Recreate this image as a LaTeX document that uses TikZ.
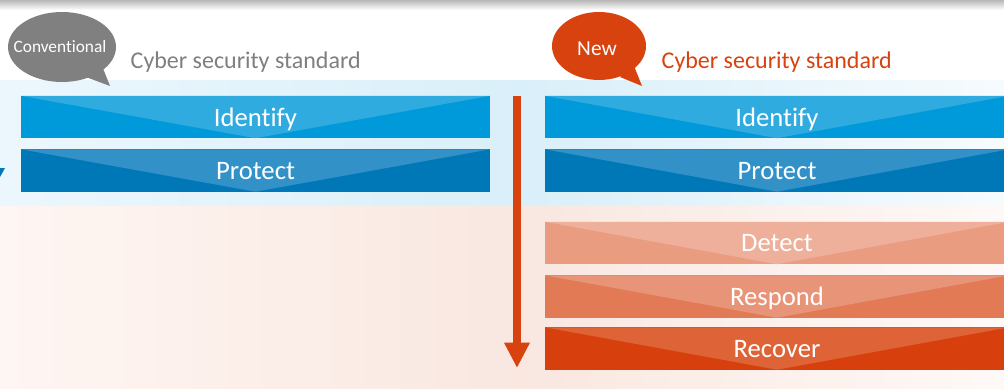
\documentclass[tikz,border=0pt]{standalone}
\usepackage{fontspec}
\setmainfont{Carlito}[Ligatures=CommonOff]
\usetikzlibrary{arrows.meta,shapes.geometric}
\definecolor{idbase}{RGB}{0,154,218}
\definecolor{idlite}{RGB}{48,171,224}
\definecolor{prbase}{RGB}{0,120,184}
\definecolor{prlite}{RGB}{50,146,200}
\definecolor{debase}{RGB}{234,156,128}
\definecolor{delite}{RGB}{238,176,154}
\definecolor{rsbase}{RGB}{227,122,86}
\definecolor{rslite}{RGB}{232,148,120}
\definecolor{rcbase}{RGB}{215,64,12}
\definecolor{rclite}{RGB}{222,100,56}
\definecolor{orng}{RGB}{216,66,14}
\definecolor{gtxt}{RGB}{127,127,127}
\definecolor{gbub}{RGB}{128,128,128}
\definecolor{bl1}{RGB}{236,247,253}
\definecolor{bl2}{RGB}{217,239,249}
\definecolor{bl3}{RGB}{246,251,254}
\definecolor{pk1}{RGB}{254,246,243}
\definecolor{pk2}{RGB}{249,231,224}
\definecolor{pk3}{RGB}{254,249,247}
\pgfdeclarehorizontalshading{blueband}{100bp}{color(0bp)=(bl1); color(25bp)=(bl1); color(51bp)=(bl2); color(75bp)=(bl3); color(100bp)=(bl3)}
\pgfdeclarehorizontalshading{pinkband}{100bp}{color(0bp)=(pk1); color(25bp)=(pk1); color(51bp)=(pk2); color(75bp)=(pk3); color(100bp)=(pk3)}
\tikzset{
  bar/.style n args={3}{rectangle, inner sep=0pt, minimum width=#3, minimum height=31.8pt,
    fill=#1, text=white, font=\fontsize{20}{24}\selectfont, text depth=0pt,
    path picture={\fill[#2] (path picture bounding box.north west) -- (path picture bounding box.north east) -- (path picture bounding box.south) -- cycle;}},
  lbar/.style 2 args={bar={#1}{#2}{351.75pt}},
  rbar/.style 2 args={bar={#1}{#2}{348pt}},
  bubtext/.style={text=white},
  title/.style={font=\fontsize{18}{21}\selectfont, anchor=base west}
}
\begin{document}
\begin{tikzpicture}[x=0.75pt,y=-0.75pt]
\useasboundingbox (0,0) rectangle (1004,389);
\clip (0,0) rectangle (1004,389);
% backgrounds
\fill[white] (0,0) rectangle (1004,389);
\shade[top color=black!28, bottom color=white] (0,0) rectangle (1004,10);
\shade[shading=blueband] (0,80) rectangle (1004,206);
\shade[shading=pinkband] (0,206) rectangle (1004,389);
% left cut-off arrowhead
\fill[prbase] (-5,168) -- (5,168) -- (0,177) -- cycle;
% bubbles
\fill[gbub] (62,47) ellipse [x radius=54, y radius=35];
\fill[gbub] (102,66) -- (110,86) -- (86,77) -- cycle;
\node[bubtext, font=\fontsize{13}{15}\selectfont] (conv) at (60,47) {Conventional};
\fill[orng] (599,46) ellipse [x radius=47, y radius=34];
\fill[orng] (634,66) -- (642,86) -- (620,77) -- cycle;
\node[bubtext, font=\fontsize{16}{18}\selectfont] (new) at (597,49) {New};
\node[title, text=gtxt] (t1) at (126,68) {Cyber security standard};
\node[title, text=orng] (t2) at (657,68) {Cyber security standard};
% left bars
\node[lbar={idbase}{idlite}] (lid) at (255.5,117) {Identify};
\node[lbar={prbase}{prlite}] (lpr) at (255.5,170.5) {Protect};
% right bars
\node[rbar={idbase}{idlite}] (rid) at (777,117) {Identify};
\node[rbar={prbase}{prlite}] (rpr) at (777,170.5) {Protect};
\node[rbar={debase}{delite}] (rde) at (777,243) {Detect};
\node[rbar={rsbase}{rslite}] (rrs) at (777,296.5) {Respond};
\node[rbar={rcbase}{rclite}] (rrc) at (777,348.5) {Recover};
% arrow
\coordinate (as) at (517,96);
\coordinate (ae) at (517,368);
\draw[orng, line width=6pt, -{Triangle[width=18pt,length=19pt]}] (as) -- (ae);
\end{tikzpicture}
\end{document}
